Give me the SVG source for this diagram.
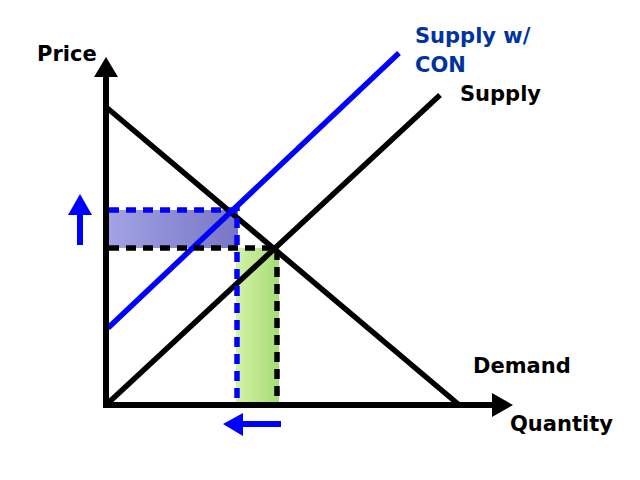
<svg xmlns="http://www.w3.org/2000/svg" width="640" height="480" viewBox="0 0 640 480">
<defs>
<linearGradient id="gBlue" x1="0" y1="0" x2="1" y2="0">
<stop offset="0" stop-color="#a2a2e4"/>
<stop offset="1" stop-color="#7676c6"/>
</linearGradient>
<linearGradient id="gGreen" x1="0" y1="0" x2="1" y2="0">
<stop offset="0" stop-color="#d4f2a8"/>
<stop offset="1" stop-color="#a6dc74"/>
</linearGradient>
<style>
.lbl{font-family:"DejaVu Sans",Verdana,sans-serif;font-weight:bold;font-size:21px;fill:#000}
.blbl{fill:#0033a0}
.ax{stroke:#000;stroke-width:6;fill:none}
.k{stroke:#000;stroke-width:5.5;fill:none}
.b{stroke:#0000ff;stroke-width:5.5;fill:none}
.kd{stroke:#000;stroke-width:5.5;fill:none;stroke-dasharray:10 7}
.bd{stroke:#0000ff;stroke-width:5.5;fill:none;stroke-dasharray:10 7}
</style>
</defs>
<rect width="640" height="480" fill="#fff"/>
<g id="areas">
<rect x="109" y="210" width="129" height="38" fill="url(#gBlue)"/>
<rect x="236" y="248" width="43" height="155" fill="url(#gGreen)"/>
</g>
<g id="connectors">
<line class="k" x1="106" y1="107" x2="458" y2="404"/>
<line class="k" x1="106" y1="405" x2="440" y2="95"/>
<line class="b" x1="108" y1="328" x2="399" y2="53"/>
<path class="bd" d="M109 210 H237 V405"/>
<path class="kd" d="M109 248 H277 V405"/>
</g>
<g id="axes">
<line class="ax" x1="106" y1="405" x2="106" y2="74"/>
<polygon points="94,77 118,77 106,57" fill="#000"/>
<line class="ax" x1="103" y1="405" x2="494" y2="405"/>
<polygon points="492,393 492,417 513,405" fill="#000"/>
</g>
<g id="shift-arrows">
<line x1="80" y1="245" x2="80" y2="212" stroke="#0000ff" stroke-width="6"/>
<polygon points="68,215 92,215 80,194" fill="#0000ff"/>
<line x1="281" y1="424" x2="240" y2="424" stroke="#0000ff" stroke-width="6"/>
<polygon points="243,413 243,436 223,424" fill="#0000ff"/>
</g>
<g id="labels">
<text class="lbl" x="37" y="61">Price</text>
<text class="lbl blbl" x="415" y="43">Supply w/</text>
<text class="lbl blbl" x="415" y="72">CON</text>
<text class="lbl" x="460" y="101">Supply</text>
<text class="lbl" x="473" y="373">Demand</text>
<text class="lbl" x="510" y="431">Quantity</text>
</g>
</svg>
